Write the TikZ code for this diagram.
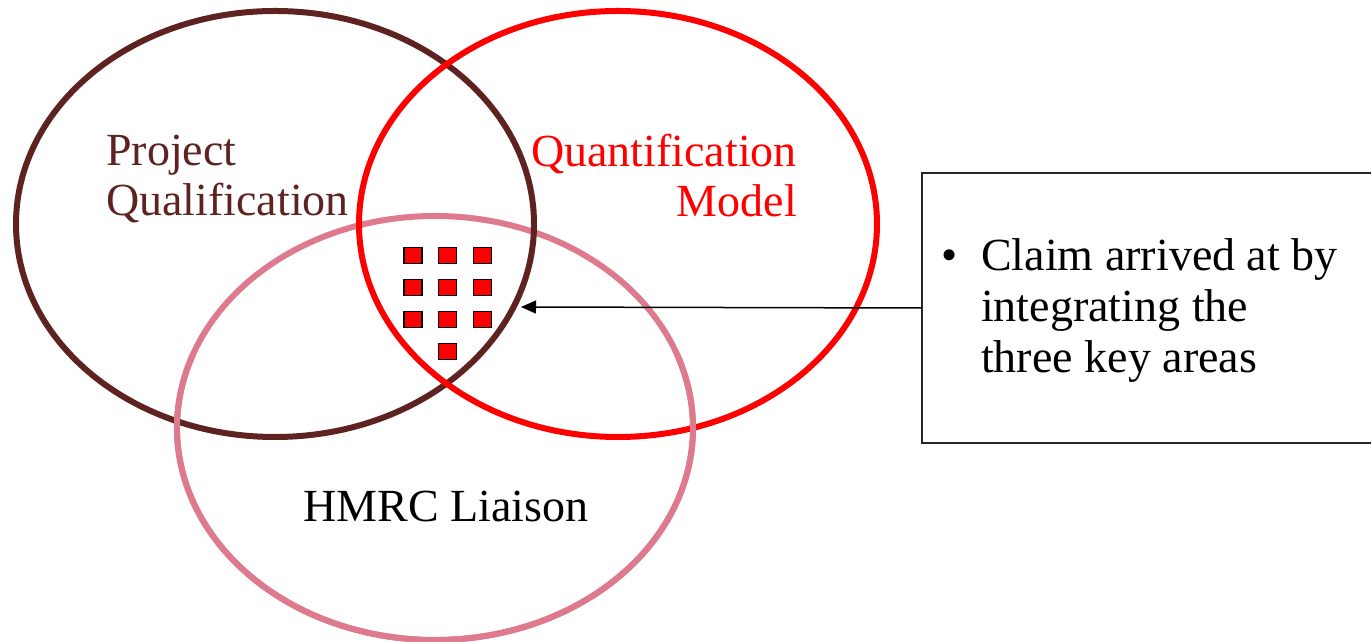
\documentclass[tikz,border=0pt]{standalone}
\usepackage{fontspec}
\setmainfont{Liberation Serif}
\usetikzlibrary{arrows.meta}

\definecolor{pqbrown}{RGB}{94,35,32}
\definecolor{qmred}{RGB}{255,0,0}
\definecolor{hmpink}{RGB}{222,122,142}

\begin{document}
\begin{tikzpicture}[x=1pt,y=1pt,
  ring/.style={line width=6pt},
  label/.style={inner sep=0pt, font=\fontsize{46}{50}\selectfont},
  token/.style={draw=black, line width=1.4pt, fill=qmred, minimum width=18pt,
                minimum height=16pt, inner sep=0pt},
  callout/.style={draw=black!85, line width=1.5pt, minimum width=458pt,
                  minimum height=270pt, inner sep=0pt},
  pointer/.style={draw=black, line width=1.5pt, -{Triangle[length=15pt,width=13pt]}}
]
\useasboundingbox (0,0) rectangle (1371,642);

% the three overlapping areas
\coordinate (pq) at (275,418);
\coordinate (qm) at (618,418);
\coordinate (hm) at (435,214);
\draw[ring, hmpink] (hm) ellipse [x radius=258, y radius=212];
\draw[ring, pqbrown] (pq) ellipse [x radius=259, y radius=213];
\draw[ring, qmred] (qm) ellipse [x radius=259, y radius=213];
% lower part of the liaison ring passes over the other two
\draw[ring, hmpink] (hm) ++(160:258 and 212)
  arc [start angle=160, end angle=380, x radius=258, y radius=212];

% area labels (anchored on the baseline of their last line)
\node[label, text=pqbrown, anchor=base west, align=left] (pqlabel)
  at (106,426) {Project\\Qualification};
\node[label, text=qmred, anchor=base east, align=right] (qmlabel)
  at (797,425) {Quantification\\Model};
\node[label, anchor=base] (hmlabel) at (446,120) {HMRC Liaison};

% claim tokens in the common area
\node[token] (t1) at (413,386.5) {};
\node[token] (t2) at (447.5,386.5) {};
\node[token] (t3) at (482.5,386.5) {};
\node[token] (t4) at (413,354.5) {};
\node[token] (t5) at (447.5,354.5) {};
\node[token] (t6) at (482.5,354.5) {};
\node[token] (t7) at (413,322.5) {};
\node[token] (t8) at (447.5,322.5) {};
\node[token] (t9) at (482.5,322.5) {};
\node[token] (t10) at (447.5,290.5) {};

% call-out box
\node[callout] (box) at (1151,334) {};
\node[label, anchor=base] (bullet) at (950,371) {\textbullet};
\node[inner sep=0pt, anchor=base west, align=left,
      font=\fontsize{46}{51}\selectfont] (claim)
  at (981,269) {Claim arrived at by\\integrating the\\three key areas};

\coordinate (tip) at (521,335);
\draw[pointer] (box.west) -- (tip);
\end{tikzpicture}
\end{document}
